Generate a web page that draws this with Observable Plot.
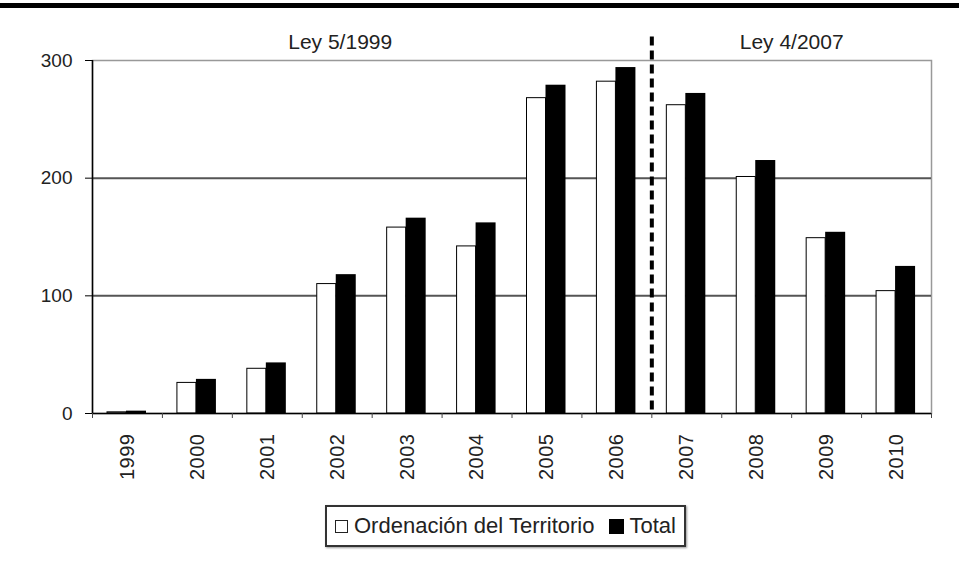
<!DOCTYPE html>
<html>
<head>
<meta charset="utf-8">
<script src="https://cdn.jsdelivr.net/npm/d3@7"></script>
<script src="https://cdn.jsdelivr.net/npm/@observablehq/plot@0.6"></script>
<style>
  html, body { margin: 0; padding: 0; background: #fff; }
  #wrap { position: relative; width: 959px; height: 570px; font-family: "Liberation Sans", Arial, sans-serif; }
  #rule { position: absolute; left: 0; top: 3px; width: 959px; height: 5px; background: #000; }
  #chart { position: absolute; left: 0; top: 0; }
  #legend { position: absolute; left: 325px; top: 505px; height: 38px; padding: 0 8px;
    border: 2px solid #333; box-shadow: 1px 1px 2px #999; display: flex; align-items: center;
    font-size: 22px; color: #222; gap: 6px; white-space: nowrap; }
  .sw { display: inline-block; box-sizing: border-box; }
  g[aria-label="x-axis tick label"] text { letter-spacing: 0.5px; }
</style>
</head>
<body>
<div id="wrap">
  <div id="chart"></div>
  <div id="rule"></div>
  <div id="legend"></div>
</div>
<script>
const years = ["1999","2000","2001","2002","2003","2004","2005","2006","2007","2008","2009","2010"];
const ordenacion = [1, 26, 38, 110, 158, 142, 268, 282, 262, 201, 149, 104];
const total = [2, 29, 43, 118, 166, 162, 279, 294, 272, 215, 154, 125];
const seriesNames = ["Ordenación del Territorio", "Total"];
const yTicks = [0, 100, 200, 300];
const gridValues = [100, 200];
const lawLabels = ["Ley 5/1999", "Ley 4/2007"];
const lawYears = ["2002", "2008"];
const dividerYear = "2007";
const dividerTop = 320;

const W = 959, H = 500, mL = 92, mR = 28, mT = 60, mB = 87;
const bw = (W - mL - mR) / years.length;

const ordData = years.map((y, i) => ({year: y, value: ordenacion[i]}));
const totData = years.map((y, i) => ({year: y, value: total[i]}));

const plot = Plot.plot({
  width: W, height: H,
  marginLeft: mL, marginRight: mR, marginTop: mT, marginBottom: mB,
  style: {fontFamily: "Liberation Sans, Arial, sans-serif", color: "#222", background: "transparent"},
  x: {domain: years, padding: 0, round: false, label: null},
  y: {domain: [0, 300], label: null},
  marks: [
    Plot.frame({stroke: "#999", strokeWidth: 1.5}),
    Plot.ruleY(gridValues, {stroke: "#555", strokeWidth: 2}),
    Plot.barY(ordData, {x: "year", y: "value", fill: "#fff", stroke: "#000", strokeWidth: 1,
      insetLeft: 15, insetRight: bw - 34}),
    Plot.barY(totData, {x: "year", y: "value", fill: "#000",
      insetLeft: 34, insetRight: bw - 54}),
    Plot.ruleY([0], {stroke: "#000", strokeWidth: 1.5}),
    Plot.ruleX([years[0]], {x: d => d, dx: -bw / 2, y1: 0, y2: 300, stroke: "#000", strokeWidth: 1.5}),
    Plot.axisY({ticks: yTicks, tickSize: 7, tickPadding: 13, fontSize: 19, tickFormat: d => d, stroke: "#000"}),
    Plot.axisX({tickSize: 5, text: null, dx: -bw / 2, stroke: "#444"}),
    Plot.axisX({ticks: [years[years.length - 1]], tickSize: 5, text: null, dx: bw / 2, stroke: "#444"}),
    Plot.axisX({tickSize: 0, tickPadding: 20, tickRotate: -90, fontSize: 20}),
    Plot.ruleX([dividerYear], {x: d => d, dx: -bw / 2, y1: dividerTop, y2: 0, stroke: "#000",
      strokeWidth: 4, strokeDasharray: "9,5"}),
    Plot.text([lawLabels[0]], {x: () => lawYears[0], text: d => d, frameAnchor: "top", dy: -18, dx: 3,
      fontSize: 21, fill: "#222", textAnchor: "middle", lineAnchor: "middle"}),
    Plot.text([lawLabels[1]], {x: () => lawYears[1], text: d => d, frameAnchor: "top", dy: -18, dx: bw / 2,
      fontSize: 21, fill: "#222", textAnchor: "middle", lineAnchor: "middle"})
  ]
});
document.getElementById("chart").appendChild(plot);

const legend = document.getElementById("legend");
seriesNames.forEach((name, i) => {
  const sw = document.createElement("span");
  sw.className = "sw";
  if (i === 0) { sw.style.cssText = "width:13px;height:13px;border:1.5px solid #222;background:#fff;"; }
  else { sw.style.cssText = "width:15px;height:15px;background:#000;margin-left:8px;"; }
  const tx = document.createElement("span");
  tx.textContent = name;
  legend.appendChild(sw);
  legend.appendChild(tx);
});
</script>
</body>
</html>
